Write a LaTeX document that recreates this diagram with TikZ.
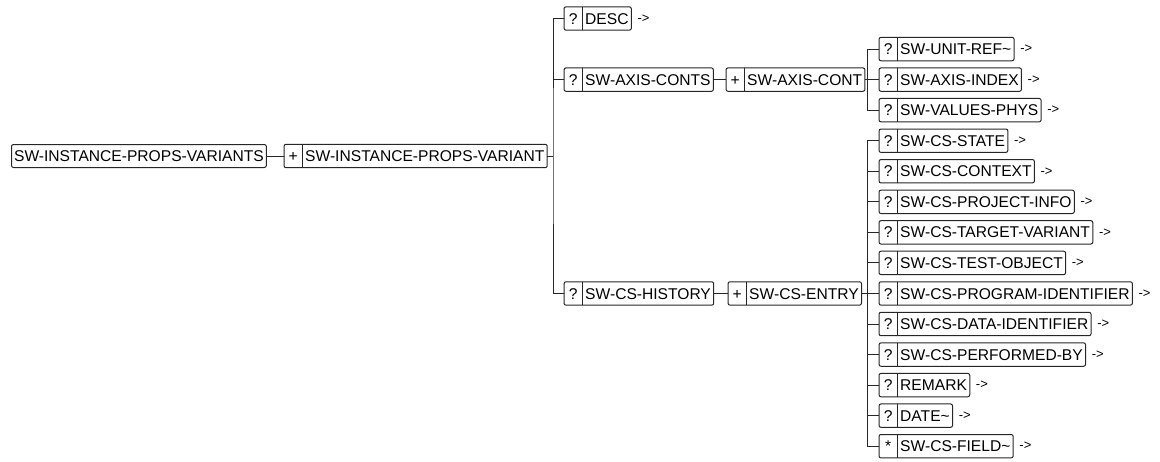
\documentclass[tikz,border=0pt]{standalone}
\usepackage{fontspec}
\setmainfont{Liberation Sans}
\usetikzlibrary{calc}

\tikzset{
  x=1pt, y=-1pt,
  wire/.style={line width=1pt, draw=black!85},
  frame/.style={line width=1pt, draw=black!85, rounded corners=2pt},
  markcell/.style={minimum width=18pt, minimum height=23pt, inner sep=0pt,
    font=\fontsize{15.6}{18}\selectfont, text height=11.2pt, text depth=0pt},
  namecell/.style={minimum height=23pt, inner xsep=2.6pt, inner ysep=0pt,
    font=\fontsize{15.6}{18}\selectfont, text height=11.2pt, text depth=0pt},
  moremark/.style={inner sep=0pt, font=\fontsize{13}{15}\selectfont, anchor=west},
}

% element: #1 node name, #2 left x, #3 row y, #4 occurrence marker, #5 label
\newcommand\elem[5]{%
  \node[markcell, anchor=west] (#1-m) at (#2,#3) {#4};
  \node[namecell, anchor=west] (#1) at (#1-m.east) {#5};
  \draw[frame] (#1-m.south west) rectangle (#1.north east);
  \draw[wire] (#1-m.north east) -- (#1-m.south east);
}
% continuation mark after an element
\newcommand\more[1]{\node[moremark] (#1-more) at ([xshift=6pt]#1.east) {-{}>};}

\begin{document}
\begin{tikzpicture}
\useasboundingbox (0,0) rectangle (1160,461);

\def\rowy#1{\fpeval{18.5+30.55*#1}}

% root and its repeated child
\node[namecell, frame, anchor=west] (root) at (11,156) {SW-INSTANCE-PROPS-VARIANTS};
\elem{ipv}{284}{156}{+}{SW-INSTANCE-PROPS-VARIANT}
\draw[wire] (root.east) -- (ipv-m.west);

% first level
\elem{desc}{564}{\rowy{0}}{?}{DESC}\more{desc}
\elem{axcs}{564}{\rowy{2}}{?}{SW-AXIS-CONTS}
\elem{hist}{564}{\rowy{9}}{?}{SW-CS-HISTORY}

\coordinate (j1) at (553,156);
\draw[wire] (ipv.east) -- (j1);
\draw[wire] (desc-m.west) -| (j1) |- (hist-m.west);
\draw[wire] (j1 |- axcs-m.west) -- (axcs-m.west);

% axis contents
\elem{axc}{726}{\rowy{2}}{+}{SW-AXIS-CONT}
\draw[wire] (axcs.east) -- (axc-m.west);

\elem{unit}{879}{\rowy{1}}{?}{SW-UNIT-REF\textasciitilde}\more{unit}
\elem{axidx}{879}{\rowy{2}}{?}{SW-AXIS-INDEX}\more{axidx}
\elem{vphys}{879}{\rowy{3}}{?}{SW-VALUES-PHYS}\more{vphys}

\coordinate (j2) at (867.5,\rowy{2});
\draw[wire] (axc.east) -- (j2) -- (axidx-m.west);
\draw[wire] (unit-m.west) -| (j2) |- (vphys-m.west);

% change history
\elem{entry}{728}{\rowy{9}}{+}{SW-CS-ENTRY}
\draw[wire] (hist.east) -- (entry-m.west);

\elem{state}{879}{\rowy{4}}{?}{SW-CS-STATE}\more{state}
\elem{ctx}{879}{\rowy{5}}{?}{SW-CS-CONTEXT}\more{ctx}
\elem{proj}{879}{\rowy{6}}{?}{SW-CS-PROJECT-INFO}\more{proj}
\elem{tvar}{879}{\rowy{7}}{?}{SW-CS-TARGET-VARIANT}\more{tvar}
\elem{tobj}{879}{\rowy{8}}{?}{SW-CS-TEST-OBJECT}\more{tobj}
\elem{prog}{879}{\rowy{9}}{?}{SW-CS-PROGRAM-IDENTIFIER}\more{prog}
\elem{data}{879}{\rowy{10}}{?}{SW-CS-DATA-IDENTIFIER}\more{data}
\elem{perf}{879}{\rowy{11}}{?}{SW-CS-PERFORMED-BY}\more{perf}
\elem{remark}{879}{\rowy{12}}{?}{REMARK}\more{remark}
\elem{date}{879}{\rowy{13}}{?}{DATE\textasciitilde}\more{date}
\elem{field}{879}{\rowy{14}}{*}{SW-CS-FIELD\textasciitilde}\more{field}

\coordinate (j3) at (867.5,\rowy{9});
\draw[wire] (entry.east) -- (j3) -- (prog-m.west);
\draw[wire] (state-m.west) -| (j3) |- (field-m.west);
\foreach \c in {ctx,proj,tvar,tobj,data,perf,remark,date}
  \draw[wire] (j3 |- \c-m.west) -- (\c-m.west);
\end{tikzpicture}
\end{document}
